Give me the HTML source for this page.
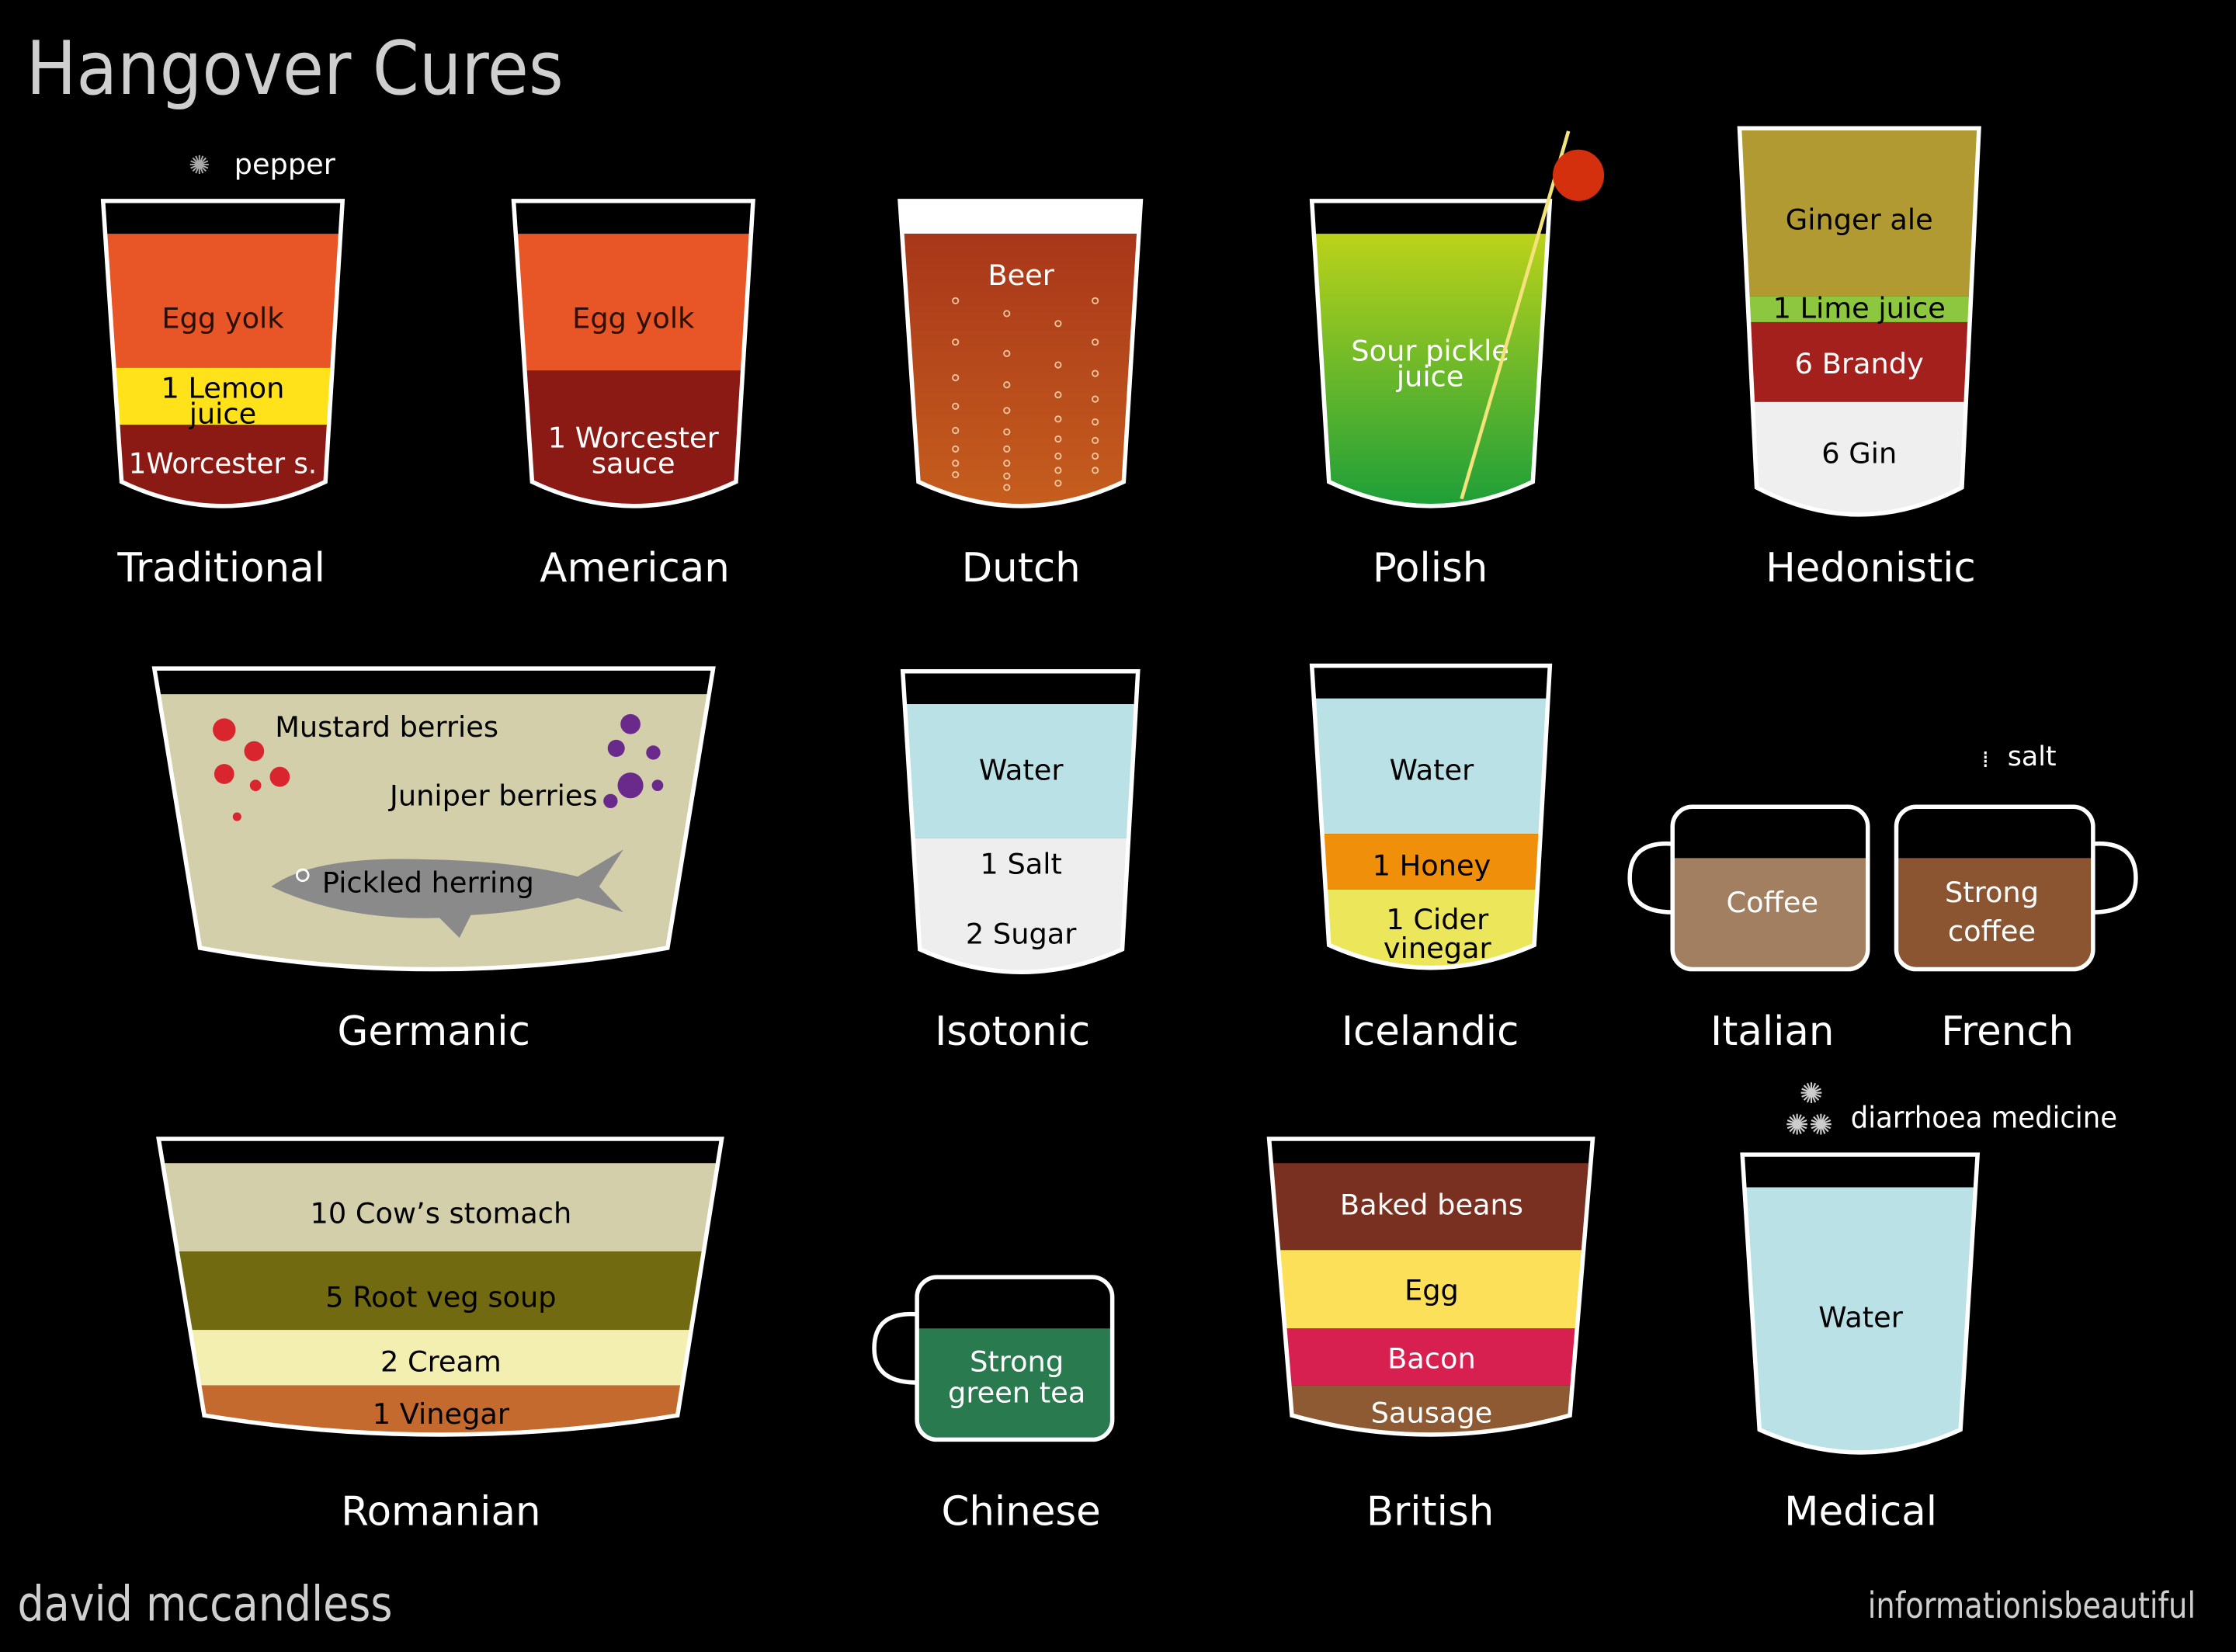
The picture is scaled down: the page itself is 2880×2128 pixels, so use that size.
<!DOCTYPE html>
<html><head><meta charset="utf-8"><style>
html,body{margin:0;padding:0;background:#000;}
svg{display:block;}
text{font-family:"DejaVu Sans","Liberation Sans",sans-serif;}
.l{font-size:20px;text-anchor:middle;}
.n{font-size:28px;fill:#fff;text-anchor:middle;}
.o{fill:none;stroke:#fff;stroke-width:3;}
</style></head><body>
<svg width="2880" height="2128" viewBox="0 0 1568 1159" xmlns="http://www.w3.org/2000/svg">
<defs>
<clipPath id="c1"><path d="M72,141 H240 L228,338 Q156,372 85,338 Z"/></clipPath>
<clipPath id="c2"><path d="M360,141 H528 L516,338 Q444,372 373,338 Z"/></clipPath>
<clipPath id="c3"><path d="M631,141 H800 L788,338 Q716,372 644,338 Z"/></clipPath>
<clipPath id="c4"><path d="M920,141 H1087 L1075,338 Q1003,372 932,338 Z"/></clipPath>
<clipPath id="c5"><path d="M1220,90 H1388 L1376,342 Q1304,380 1232,342 Z"/></clipPath>
<clipPath id="c6"><path d="M108,469 H500 L468,665 Q304,695 140,665 Z"/></clipPath>
<clipPath id="c7"><path d="M633,471 H798 L787,666 Q716,698 645,666 Z"/></clipPath>
<clipPath id="c8"><path d="M920,467 H1087 L1076,663 Q1003,695 932,663 Z"/></clipPath>
<clipPath id="c9"><path d="M111,799 H506 L475,993 Q309,1020 143,993 Z"/></clipPath>
<clipPath id="c10"><path d="M890,799 H1117 L1101,993 Q1003,1020 906,993 Z"/></clipPath>
<clipPath id="c11"><path d="M1222,810 H1387 L1375,1003 Q1305,1035 1234,1003 Z"/></clipPath>
<clipPath id="ci"><rect x="1173" y="566" width="137" height="114" rx="14"/></clipPath>
<clipPath id="cf"><rect x="1330" y="566" width="138" height="114" rx="14"/></clipPath>
<clipPath id="cc"><rect x="643" y="896" width="137" height="114" rx="14"/></clipPath>
<linearGradient id="beer" x1="0" y1="0" x2="0" y2="1"><stop offset="0" stop-color="#a8361a"/><stop offset="1" stop-color="#c9621e"/></linearGradient>
<linearGradient id="pick" x1="0" y1="0" x2="0" y2="1"><stop offset="0" stop-color="#bcd21a"/><stop offset="1" stop-color="#0e9a3c"/></linearGradient>
</defs>
<text x="18" y="66" font-size="52" fill="#cfcfcf" textLength="377" lengthAdjust="spacingAndGlyphs">Hangover Cures</text>

<!-- Traditional -->
<g clip-path="url(#c1)"><rect x="60" y="141" width="200" height="23" fill="#000"/><rect x="60" y="164" width="200" height="94" fill="#e85526"/><rect x="60" y="258" width="200" height="40" fill="#ffe21a"/><rect x="60" y="298" width="200" height="70" fill="#8b1a14"/></g>
<path class="o" d="M72,141 H240 L228,338 Q156,372 85,338 Z"/>
<text class="l" x="156" y="230" fill="#2a1000">Egg yolk</text>
<text class="l" x="156" y="279" fill="#000">1 Lemon</text><text class="l" x="156" y="297" fill="#000">juice</text>
<text class="l" x="156" y="332" fill="#fff" textLength="132" lengthAdjust="spacingAndGlyphs">1Worcester s.</text>
<text x="132" y="122" font-size="18" fill="#aaa">✺</text><text x="164" y="122" font-size="20" fill="#fff">pepper</text>
<text class="n" x="155" y="408">Traditional</text>

<!-- American -->
<g clip-path="url(#c2)"><rect x="350" y="141" width="200" height="23" fill="#000"/><rect x="350" y="164" width="200" height="96" fill="#e85526"/><rect x="350" y="260" width="200" height="110" fill="#8b1a14"/></g>
<path class="o" d="M360,141 H528 L516,338 Q444,372 373,338 Z"/>
<text class="l" x="444" y="230" fill="#2a1000">Egg yolk</text>
<text class="l" x="444" y="314" fill="#fff">1 Worcester</text><text class="l" x="444" y="332" fill="#fff">sauce</text>
<text class="n" x="445" y="408">American</text>

<!-- Dutch -->
<g clip-path="url(#c3)"><rect x="620" y="141" width="200" height="23" fill="#fff"/><rect x="620" y="164" width="200" height="210" fill="url(#beer)"/>
<g fill="none" stroke="#f0c8a0" stroke-width="1">
<circle cx="670" cy="211" r="2"/><circle cx="670" cy="240" r="2"/><circle cx="670" cy="265" r="2"/><circle cx="670" cy="285" r="2"/><circle cx="670" cy="302" r="2"/><circle cx="670" cy="315" r="2"/><circle cx="670" cy="325" r="2"/><circle cx="670" cy="333" r="2"/>
<circle cx="706" cy="220" r="2"/><circle cx="706" cy="248" r="2"/><circle cx="706" cy="270" r="2"/><circle cx="706" cy="288" r="2"/><circle cx="706" cy="303" r="2"/><circle cx="706" cy="315" r="2"/><circle cx="706" cy="325" r="2"/><circle cx="706" cy="334" r="2"/><circle cx="706" cy="342" r="2"/>
<circle cx="742" cy="227" r="2"/><circle cx="742" cy="256" r="2"/><circle cx="742" cy="277" r="2"/><circle cx="742" cy="294" r="2"/><circle cx="742" cy="308" r="2"/><circle cx="742" cy="320" r="2"/><circle cx="742" cy="330" r="2"/><circle cx="742" cy="339" r="2"/>
<circle cx="768" cy="211" r="2"/><circle cx="768" cy="240" r="2"/><circle cx="768" cy="262" r="2"/><circle cx="768" cy="280" r="2"/><circle cx="768" cy="296" r="2"/><circle cx="768" cy="309" r="2"/><circle cx="768" cy="320" r="2"/><circle cx="768" cy="330" r="2"/></g></g>
<path class="o" d="M631,141 H800 L788,338 Q716,372 644,338 Z"/>
<text class="l" x="716" y="200" fill="#fff">Beer</text>
<text class="n" x="716" y="408">Dutch</text>

<!-- Polish -->
<g clip-path="url(#c4)"><rect x="910" y="141" width="200" height="23" fill="#000"/><rect x="910" y="164" width="200" height="210" fill="url(#pick)"/></g>
<path class="o" d="M920,141 H1087 L1075,338 Q1003,372 932,338 Z"/>
<text class="l" x="1003" y="253" fill="#fff">Sour pickle</text><text class="l" x="1003" y="271" fill="#fff">juice</text>
<line x1="1025" y1="350" x2="1100" y2="92" stroke="#f4e27a" stroke-width="2.5"/>
<circle cx="1107" cy="123" r="18" fill="#d5300e"/>
<text class="n" x="1003" y="408">Polish</text>

<!-- Hedonistic -->
<g clip-path="url(#c5)"><rect x="1210" y="90" width="200" height="118" fill="#b19a32"/><rect x="1210" y="208" width="200" height="18" fill="#8dc63f"/><rect x="1210" y="226" width="200" height="56" fill="#a3201c"/><rect x="1210" y="282" width="200" height="100" fill="#efefef"/></g>
<path class="o" d="M1220,90 H1388 L1376,342 Q1304,380 1232,342 Z"/>
<text class="l" x="1304" y="161" fill="#000">Ginger ale</text>
<text class="l" x="1304" y="223" fill="#000">1 Lime juice</text>
<text class="l" x="1304" y="262" fill="#fff">6 Brandy</text>
<text class="l" x="1304" y="325" fill="#000">6 Gin</text>
<text class="n" x="1312" y="408">Hedonistic</text>

<!-- Germanic -->
<g clip-path="url(#c6)"><rect x="100" y="469" width="410" height="18" fill="#000"/><rect x="100" y="487" width="410" height="220" fill="#d3cfaa"/></g>
<path class="o" d="M108,469 H500 L468,665 Q304,695 140,665 Z"/>
<g fill="#d8252e"><circle cx="157" cy="512" r="8"/><circle cx="178" cy="527" r="7"/><circle cx="157" cy="543" r="7"/><circle cx="196" cy="545" r="7"/><circle cx="179" cy="551" r="4"/><circle cx="166" cy="573" r="3"/></g>
<g fill="#6a2a8c"><circle cx="442" cy="508" r="7"/><circle cx="432" cy="525" r="6"/><circle cx="458" cy="528" r="5"/><circle cx="442" cy="551" r="9"/><circle cx="428" cy="562" r="5"/><circle cx="461" cy="551" r="4"/></g>
<path d="M190,622 Q220,600 300,603 Q360,604 405,615 L437,596 L420,622 L437,640 L405,630 Q370,640 330,642 L322,658 L308,644 Q240,646 190,622 Z" fill="#8a8a8a"/>
<circle cx="212" cy="614" r="4" fill="none" stroke="#fff" stroke-width="1.5"/>
<text class="l" x="271" y="517" fill="#000">Mustard berries</text>
<text class="l" x="346" y="565" fill="#000">Juniper berries</text>
<text class="l" x="300" y="626" fill="#000">Pickled herring</text>
<text class="n" x="304" y="733">Germanic</text>

<!-- Isotonic -->
<g clip-path="url(#c7)"><rect x="620" y="471" width="200" height="23" fill="#000"/><rect x="620" y="494" width="200" height="94" fill="#b9e1e6"/><rect x="620" y="588" width="200" height="120" fill="#eeeeee"/></g>
<path class="o" d="M633,471 H798 L787,666 Q716,698 645,666 Z"/>
<text class="l" x="716" y="547" fill="#000">Water</text>
<text class="l" x="716" y="613" fill="#000">1 Salt</text>
<text class="l" x="716" y="662" fill="#000">2 Sugar</text>
<text class="n" x="710" y="733">Isotonic</text>

<!-- Icelandic -->
<g clip-path="url(#c8)"><rect x="910" y="467" width="200" height="23" fill="#000"/><rect x="910" y="490" width="200" height="95" fill="#b9e1e6"/><rect x="910" y="585" width="200" height="39" fill="#f0900a"/><rect x="910" y="624" width="200" height="80" fill="#ece65a"/></g>
<path class="o" d="M920,467 H1087 L1076,663 Q1003,695 932,663 Z"/>
<text class="l" x="1004" y="547" fill="#000">Water</text>
<text class="l" x="1004" y="614" fill="#000">1 Honey</text>
<text class="l" x="1008" y="652" fill="#000">1 Cider</text><text class="l" x="1008" y="672" fill="#000">vinegar</text>
<text class="n" x="1003" y="733">Icelandic</text>

<!-- Italian -->
<path d="M1173,592 Q1143,590 1143,616 Q1143,640 1173,640" class="o" stroke-width="4"/>
<g clip-path="url(#ci)"><rect x="1170" y="566" width="145" height="36" fill="#000"/><rect x="1170" y="602" width="145" height="80" fill="#a17f60"/></g>
<rect x="1173" y="566" width="137" height="114" rx="14" class="o" stroke-width="4"/>
<text class="l" x="1243" y="640" fill="#fff">Coffee</text>
<text class="n" x="1243" y="733">Italian</text>

<!-- French -->
<path d="M1468,592 Q1498,590 1498,616 Q1498,640 1468,640" class="o" stroke-width="4"/>
<g clip-path="url(#cf)"><rect x="1325" y="566" width="150" height="36" fill="#000"/><rect x="1325" y="602" width="150" height="80" fill="#8a5530"/></g>
<rect x="1330" y="566" width="138" height="114" rx="14" class="o" stroke-width="4"/>
<text class="l" x="1397" y="633" fill="#fff">Strong</text><text class="l" x="1397" y="660" fill="#fff">coffee</text>
<text x="1390" y="538" font-size="16" fill="#fff">⁞</text><text x="1408" y="537" font-size="19" fill="#fff">salt</text>
<text class="n" x="1408" y="733">French</text>

<!-- Romanian -->
<g clip-path="url(#c9)"><rect x="100" y="799" width="420" height="17" fill="#000"/><rect x="100" y="816" width="420" height="62" fill="#d3cfaa"/><rect x="100" y="878" width="420" height="55" fill="#726a10"/><rect x="100" y="933" width="420" height="39" fill="#f3efb0"/><rect x="100" y="972" width="420" height="60" fill="#c56a2e"/></g>
<path class="o" d="M111,799 H506 L475,993 Q309,1020 143,993 Z"/>
<text class="l" x="309" y="858" fill="#000">10  Cow’s stomach</text>
<text class="l" x="309" y="917" fill="#000">5 Root veg soup</text>
<text class="l" x="309" y="962" fill="#000">2 Cream</text>
<text class="l" x="309" y="999" fill="#000">1 Vinegar</text>
<text class="n" x="309" y="1070">Romanian</text>

<!-- Chinese -->
<path d="M643,922 Q613,920 613,946 Q613,970 643,970" class="o" stroke-width="4"/>
<g clip-path="url(#cc)"><rect x="640" y="896" width="145" height="36" fill="#000"/><rect x="640" y="932" width="145" height="80" fill="#2a7a50"/></g>
<rect x="643" y="896" width="137" height="114" rx="14" class="o" stroke-width="4"/>
<text class="l" x="713" y="962" fill="#fff">Strong</text><text class="l" x="713" y="984" fill="#fff">green tea</text>
<text class="n" x="716" y="1070">Chinese</text>

<!-- British -->
<g clip-path="url(#c10)"><rect x="880" y="799" width="250" height="17" fill="#000"/><rect x="880" y="816" width="250" height="61" fill="#7a3020"/><rect x="880" y="877" width="250" height="55" fill="#fde05a"/><rect x="880" y="932" width="250" height="40" fill="#d82050"/><rect x="880" y="972" width="250" height="60" fill="#8e5a33"/></g>
<path class="o" d="M890,799 H1117 L1101,993 Q1003,1020 906,993 Z"/>
<text class="l" x="1004" y="852" fill="#fff">Baked beans</text>
<text class="l" x="1004" y="912" fill="#000">Egg</text>
<text class="l" x="1004" y="960" fill="#fff">Bacon</text>
<text class="l" x="1004" y="998" fill="#fff">Sausage</text>
<text class="n" x="1003" y="1070">British</text>

<!-- Medical -->
<g clip-path="url(#c11)"><rect x="1215" y="810" width="180" height="23" fill="#000"/><rect x="1215" y="833" width="180" height="210" fill="#b9e1e6"/></g>
<path class="o" d="M1222,810 H1387 L1375,1003 Q1305,1035 1234,1003 Z"/>
<text class="l" x="1305" y="931" fill="#000">Water</text>
<text x="1252" y="796" font-size="20" fill="#ccc">✺✺</text><text x="1262" y="774" font-size="20" fill="#ccc">✺</text>
<text x="1298" y="791" font-size="21" fill="#fff" textLength="187" lengthAdjust="spacingAndGlyphs">diarrhoea medicine</text>
<text class="n" x="1305" y="1070">Medical</text>

<text x="12" y="1137" font-size="34" fill="#cfcfcf" textLength="263" lengthAdjust="spacingAndGlyphs">david mccandless</text>
<text x="1310" y="1135" font-size="25" fill="#cfcfcf" textLength="230" lengthAdjust="spacingAndGlyphs">informationisbeautiful</text>
</svg>
</body></html>
